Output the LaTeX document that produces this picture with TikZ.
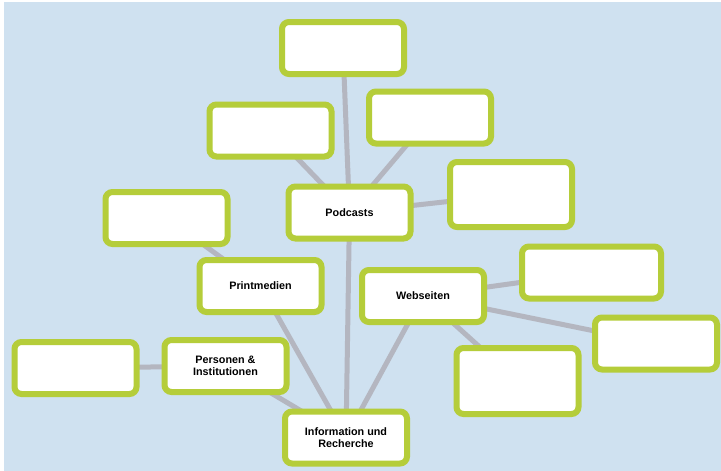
\documentclass[tikz,border=0pt]{standalone}
\usepackage{fontspec}
\setmainfont{Liberation Sans}
\pgfdeclarelayer{bg}
\pgfdeclarelayer{lines}
\pgfsetlayers{bg,lines,main}
\definecolor{bgblue}{HTML}{CFE1F0}
\definecolor{lime}{HTML}{B5CD3A}
\definecolor{linkgray}{HTML}{B4B6C0}
\tikzset{
  box/.style={draw=lime, line width=6pt, fill=white, rounded corners=7pt,
    minimum width=122pt, minimum height=52pt, inner sep=2pt,
    align=center, font=\fontsize{10.8}{12.5}\selectfont\bfseries},
  link/.style={draw=linkgray, line width=5pt},
}
\begin{document}
\begin{tikzpicture}[x=1pt,y=-1pt]
\useasboundingbox (0,0) rectangle (721,471);
\node[box] (top) at (343,48) {};
\node[box] (lu) at (270.5,130.5) {};
\node[box] (ru) at (430,117.5) {};
\node[box] (pod) at (349.5,212.5) {Podcasts};
\node[box, minimum height=65pt] (rp) at (511,194.5) {};
\node[box] (flu) at (166.5,218) {};
\node[box] (print) at (260.5,286) {Printmedien};
\node[box] (web) at (423,296) {Webseiten};
\node[box, minimum width=139pt] (rwu) at (591.5,272.5) {};
\node[box] (fr) at (656,343.5) {};
\node[box, minimum height=66pt] (bw) at (517.5,381) {};
\node[box] (fll) at (75.5,368) {};
\node[box] (pers) at (225.5,366) {Personen \&\\Institutionen};
\node[box] (info) at (346,437.5) {Information und\\Recherche};
\begin{pgfonlayer}{bg}
  \fill[white] (0,0) rectangle (721,471);
  \fill[bgblue] (4,2) rectangle (721,471);
\end{pgfonlayer}
\begin{pgfonlayer}{lines}
  \draw[link] (top.center) -- (pod.center);
  \draw[link] (lu.center) -- (pod.center);
  \draw[link] (ru.center) -- (pod.center);
  \draw[link] (rp.center) -- (pod.center);
  \draw[link] (pod.center) -- (info.center);
  \draw[link] (flu.center) -- (print.center);
  \draw[link] (print.center) -- (info.center);
  \draw[link] (web.center) -- (info.center);
  \draw[link] (web.center) -- (rwu.center);
  \draw[link] (web.center) -- (fr.center);
  \draw[link] (web.center) -- (bw.center);
  \draw[link] (fll.center) -- (pers.center);
  \draw[link] (pers.center) -- (info.center);
\end{pgfonlayer}
\end{tikzpicture}
\end{document}
